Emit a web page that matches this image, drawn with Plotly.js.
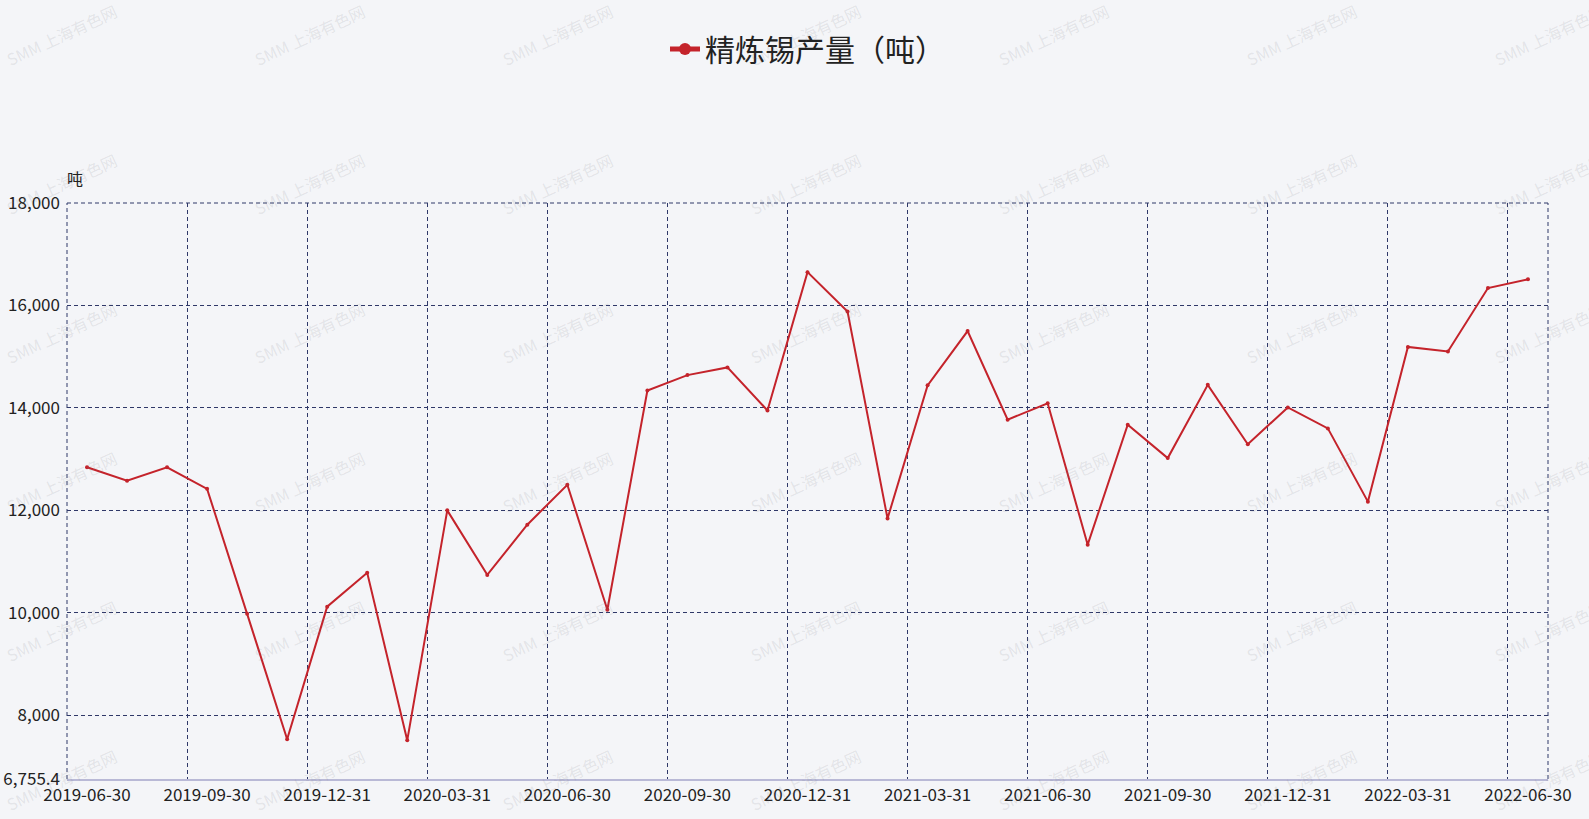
<!DOCTYPE html>
<html>
<head>
<meta charset="utf-8">
<script src="https://cdn.plot.ly/plotly-3.0.1.min.js"></script>
<style>
  html, body { margin: 0; padding: 0; background: #f4f5f8; }
  #chart { width: 1589px; height: 819px; }
</style>
</head>
<body>
<div id="chart"></div>
<script>
// Monthly refined tin output (tonnes), month-end dates
var months = [
  '2019-06-30', '2019-07-31', '2019-08-31', '2019-09-30', '2019-10-31', '2019-11-30',
  '2019-12-31', '2020-01-31', '2020-02-29', '2020-03-31', '2020-04-30', '2020-05-31',
  '2020-06-30', '2020-07-31', '2020-08-31', '2020-09-30', '2020-10-31', '2020-11-30',
  '2020-12-31', '2021-01-31', '2021-02-28', '2021-03-31', '2021-04-30', '2021-05-31',
  '2021-06-30', '2021-07-31', '2021-08-31', '2021-09-30', '2021-10-31', '2021-11-30',
  '2021-12-31', '2022-01-31', '2022-02-28', '2022-03-31', '2022-04-30', '2022-05-31',
  '2022-06-30'
];
var output = [
  12840, 12580, 12840, 12420, 9980, 7530,
  10120, 10780, 7510, 12000, 10740, 11720,
  12500, 10060, 14340, 14640, 14790, 13950,
  16650, 15880, 11840, 14440, 15500, 13770,
  14090, 11330, 13670, 13020, 14450, 13290,
  14010, 13600, 12170, 15190, 15100, 16340,
  16510
];
var seriesName = '精炼锡产量（吨）';
var yMin = 6755.4;
var yMax = 18000;
var yTicks = [6755.4, 8000, 10000, 12000, 14000, 16000, 18000];
var yTickText = ['6,755.4', '8,000', '10,000', '12,000', '14,000', '16,000', '18,000'];
var unitLabel = '吨';
var watermark = 'SMM 上海有色网';

var FONT = '"Noto Sans CJK SC", "Noto Sans", sans-serif';
var RED = '#c4232b';
var GRID = '#2f3868';
var DASH = '4px,3px';

var trace = {
  x: months,
  y: output,
  type: 'scatter',
  mode: 'lines+markers',
  name: seriesName,
  line: { color: RED, width: 2 },
  marker: { color: RED, size: 4 },
  hovertemplate: '%{x}<br>%{y:,}<extra></extra>'
};

// light diagonal watermark tiles
var annotations = [];
for (var r = 0; r < 6; r++) {
  for (var c = 0; c < 7; c++) {
    annotations.push({
      xref: 'paper', yref: 'paper',
      x: (61 + c * 248 - 67) / 1481,
      y: (779 - (35 + r * 149)) / 576,
      xanchor: 'center', yanchor: 'middle',
      text: watermark,
      showarrow: false,
      textangle: -25,
      font: { family: FONT, size: 16, color: 'rgba(120,120,130,0.15)' }
    });
  }
}
annotations.push({
  xref: 'paper', yref: 'paper',
  x: 0, y: 1,
  xshift: 8, yshift: 25,
  xanchor: 'center', yanchor: 'middle',
  text: unitLabel,
  showarrow: false,
  font: { family: FONT, size: 16, color: '#222' }
});

// dashed frame on the open edges of the grid
var frameLine = { color: GRID, width: 1, dash: DASH };
var shapes = [
  { type: 'line', xref: 'paper', yref: 'paper', x0: 0, x1: 1, y0: 1, y1: 1, line: frameLine, layer: 'below' },
  { type: 'line', xref: 'paper', yref: 'paper', x0: 0, x1: 0, y0: 0, y1: 1, line: frameLine, layer: 'below' },
  { type: 'line', xref: 'paper', yref: 'paper', x0: 1, x1: 1, y0: 0, y1: 1, line: frameLine, layer: 'below' }
];

var layout = {
  width: 1589,
  height: 819,
  paper_bgcolor: '#f4f5f8',
  plot_bgcolor: '#f4f5f8',
  font: { family: FONT, color: '#222', size: 17 },
  margin: { l: 67, r: 41, t: 203, b: 40 },
  showlegend: true,
  legend: {
    orientation: 'h',
    x: 0.5, xanchor: 'center',
    y: 1 + (203 - 49) / 576, yanchor: 'middle',
    itemsizing: 'constant',
    font: { family: FONT, size: 30, color: '#222' },
    bgcolor: 'rgba(0,0,0,0)'
  },
  xaxis: {
    type: 'category',
    range: [-0.5, months.length - 0.5],
    tickmode: 'linear',
    tick0: 0,
    dtick: 3,
    tickson: 'boundaries',
    tickangle: 0,
    ticks: '',
    ticklabelstandoff: 0,
    showgrid: true,
    gridcolor: GRID,
    griddash: DASH,
    gridwidth: 1,
    showline: true,
    linecolor: '#b9b9d6',
    linewidth: 1.5,
    tickfont: { family: FONT, size: 17, color: '#222' },
    fixedrange: true
  },
  yaxis: {
    range: [yMin, yMax],
    tickmode: 'array',
    tickvals: yTicks,
    ticktext: yTickText,
    ticks: '',
    ticklabelstandoff: 6,
    showgrid: true,
    gridcolor: GRID,
    griddash: DASH,
    gridwidth: 1,
    zeroline: false,
    showline: false,
    tickfont: { family: FONT, size: 17, color: '#222' },
    fixedrange: true
  },
  shapes: shapes,
  annotations: annotations
};

Plotly.newPlot('chart', [trace], layout, { displayModeBar: false, staticPlot: true });
</script>
</body>
</html>
